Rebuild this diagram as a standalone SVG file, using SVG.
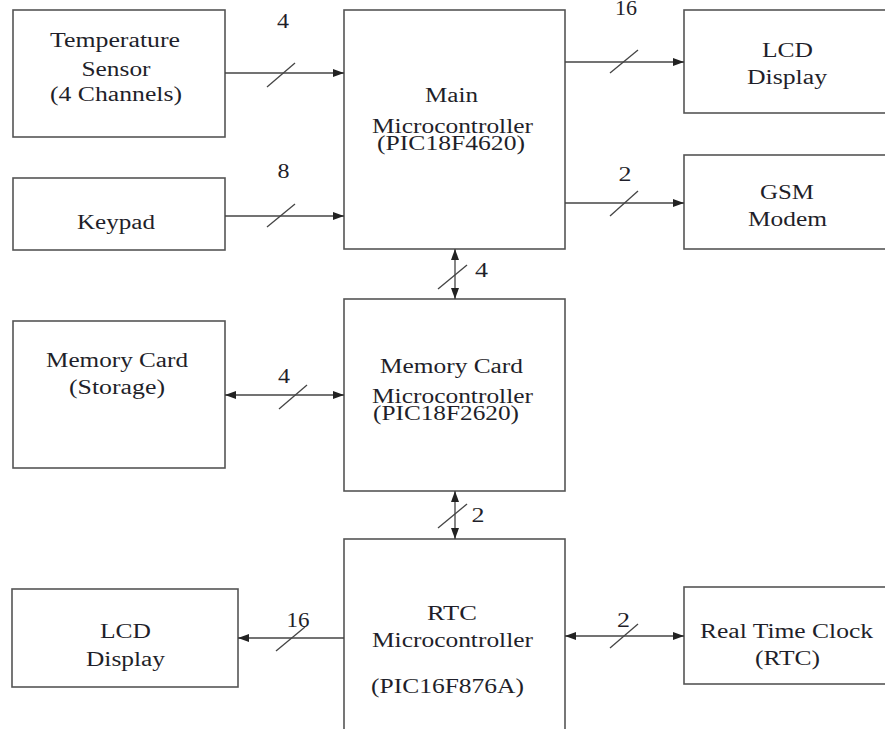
<svg xmlns="http://www.w3.org/2000/svg" width="885" height="729" viewBox="0 0 885 729">
<defs>
<style>
.box{fill:#fff;stroke:#555;stroke-width:1.6}
.ln{stroke:#444;stroke-width:1.3;fill:none}
.sl{stroke:#444;stroke-width:1.3}
text{font-family:"Liberation Serif","Times New Roman",serif;font-size:20px;fill:#1f1f2a;text-anchor:middle}
</style>
<marker id="ah" viewBox="0 0 11 8" refX="11" refY="4" markerWidth="11" markerHeight="8" markerUnits="userSpaceOnUse" orient="auto-start-reverse">
<path d="M0,0 L11,4 L0,8 z" fill="#222"/>
</marker>
</defs>
<rect width="885" height="729" fill="#fff"/>

<g id="temp">
<rect class="box" x="13" y="10" width="212" height="127"/>
<text x="115" y="47" textLength="130" lengthAdjust="spacingAndGlyphs">Temperature</text>
<text x="116" y="76" textLength="69" lengthAdjust="spacingAndGlyphs">Sensor</text>
<text x="116" y="101" textLength="132" lengthAdjust="spacingAndGlyphs">(4 Channels)</text>
</g>
<g id="keypad">
<rect class="box" x="13" y="178" width="212" height="72"/>
<text x="116" y="229" textLength="78" lengthAdjust="spacingAndGlyphs">Keypad</text>
</g>
<g id="main">
<rect class="box" x="344" y="10" width="221" height="239"/>
<text x="451.5" y="102" textLength="53" lengthAdjust="spacingAndGlyphs">Main</text>
<text x="452.5" y="133" textLength="161" lengthAdjust="spacingAndGlyphs">Microcontroller</text>
<text x="451" y="150" textLength="148" lengthAdjust="spacingAndGlyphs">(PIC18F4620)</text>
</g>
<g id="lcd1">
<rect class="box" x="684" y="10" width="210" height="103"/>
<text x="787.5" y="57" textLength="51" lengthAdjust="spacingAndGlyphs">LCD</text>
<text x="787" y="84" textLength="80" lengthAdjust="spacingAndGlyphs">Display</text>
</g>
<g id="gsm">
<rect class="box" x="684" y="155" width="210" height="94"/>
<text x="787" y="199" textLength="54" lengthAdjust="spacingAndGlyphs">GSM</text>
<text x="787.5" y="226" textLength="79" lengthAdjust="spacingAndGlyphs">Modem</text>
</g>
<g id="storage">
<rect class="box" x="13" y="321" width="212" height="147"/>
<text x="117" y="367" textLength="142" lengthAdjust="spacingAndGlyphs">Memory Card</text>
<text x="117" y="394" textLength="96" lengthAdjust="spacingAndGlyphs">(Storage)</text>
</g>
<g id="memmc">
<rect class="box" x="344" y="299" width="221" height="192"/>
<text x="451.5" y="373" textLength="143" lengthAdjust="spacingAndGlyphs">Memory Card</text>
<text x="452.5" y="403" textLength="161" lengthAdjust="spacingAndGlyphs">Microcontroller</text>
<text x="446" y="420" textLength="146" lengthAdjust="spacingAndGlyphs">(PIC18F2620)</text>
</g>
<g id="rtcmc">
<rect class="box" x="344" y="539" width="221" height="200"/>
<text x="452" y="620" textLength="50" lengthAdjust="spacingAndGlyphs">RTC</text>
<text x="452.5" y="647" textLength="161" lengthAdjust="spacingAndGlyphs">Microcontroller</text>
<text x="447.5" y="693" textLength="153" lengthAdjust="spacingAndGlyphs">(PIC16F876A)</text>
</g>
<g id="lcd2">
<rect class="box" x="12" y="589" width="226" height="98"/>
<text x="125.5" y="638" textLength="51" lengthAdjust="spacingAndGlyphs">LCD</text>
<text x="125.5" y="666" textLength="79" lengthAdjust="spacingAndGlyphs">Display</text>
</g>
<g id="rtc">
<rect class="box" x="684" y="587" width="210" height="97"/>
<text x="786.5" y="638" textLength="173" lengthAdjust="spacingAndGlyphs">Real Time Clock</text>
<text x="787.5" y="665" textLength="65" lengthAdjust="spacingAndGlyphs">(RTC)</text>
</g>

<g id="connectors">
<line class="ln" x1="225" y1="73" x2="344" y2="73" marker-end="url(#ah)"/>
<line class="sl" x1="267" y1="87" x2="295" y2="63"/>
<text x="283" y="28" textLength="12" lengthAdjust="spacingAndGlyphs">4</text>

<line class="ln" x1="225" y1="216" x2="344" y2="216" marker-end="url(#ah)"/>
<line class="sl" x1="267" y1="227" x2="295" y2="204"/>
<text x="283.5" y="178" textLength="12" lengthAdjust="spacingAndGlyphs">8</text>

<line class="ln" x1="565" y1="62" x2="684" y2="62" marker-end="url(#ah)"/>
<line class="sl" x1="610" y1="73" x2="638" y2="50"/>
<text x="626" y="15" textLength="22" lengthAdjust="spacingAndGlyphs">16</text>

<line class="ln" x1="565" y1="203" x2="684" y2="203" marker-end="url(#ah)"/>
<line class="sl" x1="610" y1="216" x2="638" y2="191"/>
<text x="625" y="181" textLength="13" lengthAdjust="spacingAndGlyphs">2</text>

<line class="ln" x1="455" y1="249" x2="455" y2="299" marker-start="url(#ah)" marker-end="url(#ah)"/>
<line class="sl" x1="438" y1="289" x2="467" y2="265"/>
<text x="481.5" y="277" textLength="13" lengthAdjust="spacingAndGlyphs">4</text>

<line class="ln" x1="225" y1="395" x2="344" y2="395" marker-start="url(#ah)" marker-end="url(#ah)"/>
<line class="sl" x1="279" y1="409" x2="307" y2="385"/>
<text x="284" y="383" textLength="12" lengthAdjust="spacingAndGlyphs">4</text>

<line class="ln" x1="455" y1="491" x2="455" y2="539" marker-start="url(#ah)" marker-end="url(#ah)"/>
<line class="sl" x1="438" y1="528" x2="467" y2="504"/>
<text x="478" y="522" textLength="13" lengthAdjust="spacingAndGlyphs">2</text>

<line class="ln" x1="344" y1="638" x2="238" y2="638" marker-end="url(#ah)"/>
<line class="sl" x1="276" y1="651" x2="305" y2="627"/>
<text x="298" y="627" textLength="23" lengthAdjust="spacingAndGlyphs">16</text>

<line class="ln" x1="565" y1="636" x2="684" y2="636" marker-start="url(#ah)" marker-end="url(#ah)"/>
<line class="sl" x1="610" y1="648" x2="638" y2="624"/>
<text x="623.5" y="627" textLength="13" lengthAdjust="spacingAndGlyphs">2</text>
</g>
</svg>
